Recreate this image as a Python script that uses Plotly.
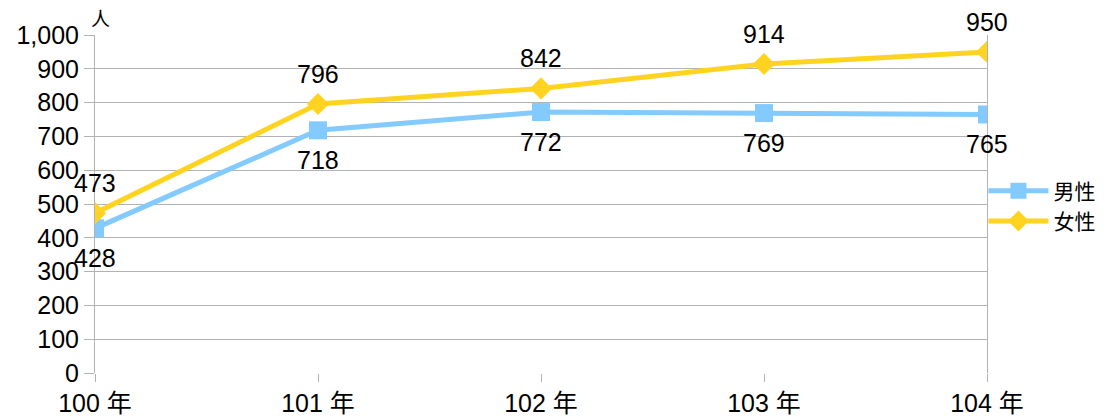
import plotly.graph_objects as go

years = ["100 年", "101 年", "102 年", "103 年", "104 年"]
male = [428, 718, 772, 769, 765]
female = [473, 796, 842, 914, 950]

xs = list(range(len(years)))
grid = "#b3b3b3"

fig = go.Figure()
fig.add_trace(go.Scatter(
    x=xs, y=male, name="男性", mode="lines+markers",
    line=dict(color="#83caff", width=5),
    marker=dict(symbol="square", size=18, color="#83caff"),
))
fig.add_trace(go.Scatter(
    x=xs, y=female, name="女性", mode="lines+markers",
    line=dict(color="#ffd320", width=5),
    marker=dict(symbol="diamond", size=17, color="#ffd320"),
))

# data labels: women above, men below
for x, v in zip(xs, female):
    fig.add_annotation(x=x, y=v, text=str(v), showarrow=False,
                       yshift=30, font=dict(size=25))
for x, v in zip(xs, male):
    fig.add_annotation(x=x, y=v, text=str(v), showarrow=False,
                       yshift=-30, font=dict(size=25))

# page body has an 8px margin, so the figure is sized to the visible area
fig.update_layout(
    width=1109, height=411,
    margin=dict(l=87, r=130, t=27, b=46),
    plot_bgcolor="white", paper_bgcolor="white",
    font=dict(family="Liberation Sans, Noto Sans CJK TC", size=25, color="#000000"),
    showlegend=True,
    legend=dict(x=0.996, y=0.494, xanchor="left", yanchor="middle",
                font=dict(family="Noto Sans CJK TC", size=21),
                itemwidth=60, tracegroupgap=0, bgcolor="rgba(0,0,0,0)"),
    xaxis=dict(range=[0, 4], tickvals=xs, ticktext=years, showgrid=False,
               ticks="outside", ticklen=8, tickcolor=grid, zeroline=False,
               showline=False, automargin=False, tickfont=dict(size=25)),
    yaxis=dict(range=[0, 1000], dtick=100, tickformat=",", gridcolor=grid,
               ticks="outside", ticklen=10, tickcolor=grid, zeroline=False,
               showline=True, linecolor=grid, mirror=True, automargin=False,
               tickfont=dict(size=25)),
)
fig.add_annotation(x=0, y=1, xref="paper", yref="paper", text="人",
                   showarrow=False, xanchor="left", yanchor="bottom",
                   xshift=-6, yshift=2,
                   font=dict(family="Noto Sans CJK TC", size=19))

fig.write_html("out.html")
